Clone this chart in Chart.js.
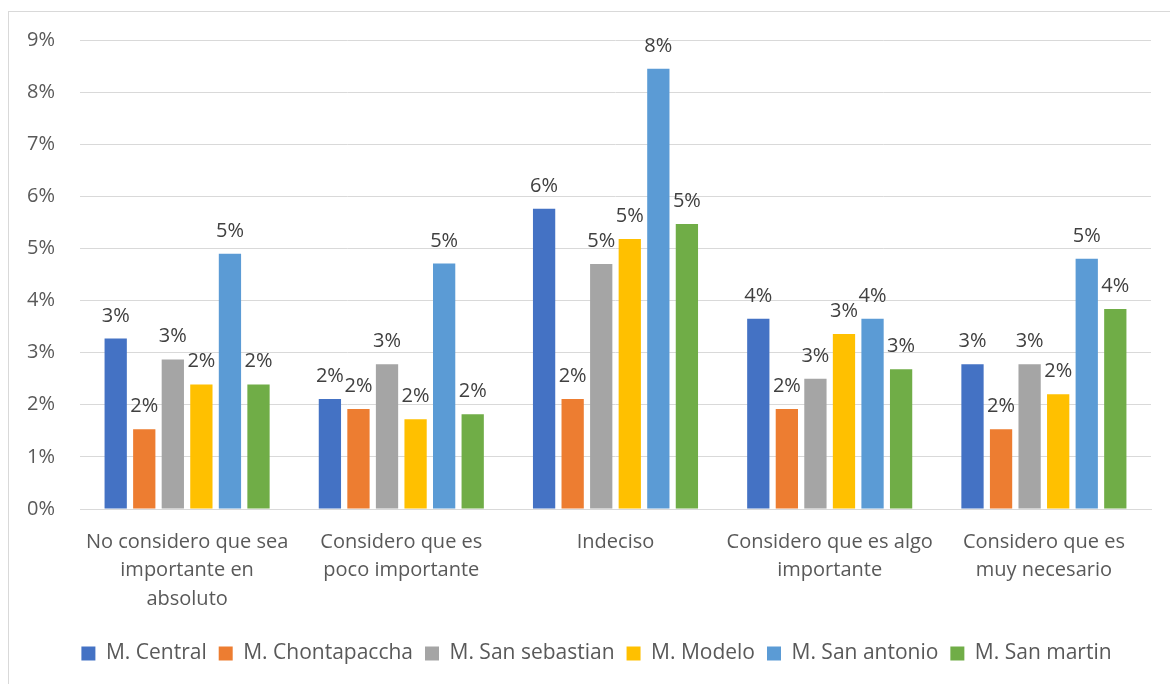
<!DOCTYPE html>
<html>
<head>
<meta charset="utf-8">
<script src="https://cdn.jsdelivr.net/npm/chart.js@4"></script>
<style>
  html, body { margin: 0; padding: 0; background: #fff; }
  body { width: 1170px; height: 684px; position: relative; overflow: hidden; }
  .frame { position: absolute; left: 8px; top: 11px; width: 1200px; height: 700px; border: 1px solid #d9d9d9; }
  .wrap { position: absolute; left: 0; top: 0; width: 1170px; height: 684px; }
</style>
</head>
<body>
<div class="frame"></div>
<div class="wrap"><canvas id="chart"></canvas></div>
<script>
// categories (wrapped the way the original shows them)
const categories = [
  ['No considero que sea', 'importante en', 'absoluto'],
  ['Considero que es', 'poco importante'],
  ['Indeciso'],
  ['Considero que es algo', 'importante'],
  ['Considero que es', 'muy necesario']
];

// values in percent
const central      = [3.27, 2.11, 5.76, 3.65, 2.78];
const chontapaccha = [1.53, 1.92, 2.11, 1.92, 1.53];
const sebastian    = [2.87, 2.78, 4.70, 2.50, 2.78];
const modelo       = [2.39, 1.72, 5.18, 3.36, 2.20];
const antonio      = [4.90, 4.71, 8.45, 3.65, 4.80];
const martin       = [2.39, 1.82, 5.47, 2.68, 3.84];

const seriesNames  = ['M. Central', 'M. Chontapaccha', 'M. San sebastian', 'M. Modelo', 'M. San antonio', 'M. San martin'];
const seriesValues = [central, chontapaccha, sebastian, modelo, antonio, martin];
const seriesColors = ['#4472C4', '#ED7D31', '#A5A5A5', '#FFC000', '#5B9BD5', '#70AD47'];

const yMax = 9;
const yStep = 1;

const FONT = "'Open Sans', sans-serif";

// draws the rounded value above each bar
const barLabels = {
  id: 'barLabels',
  afterDatasetsDraw(chart) {
    const ctx = chart.ctx;
    ctx.save();
    ctx.font = '20px ' + FONT;
    ctx.fillStyle = '#404040';
    ctx.textAlign = 'center';
    ctx.textBaseline = 'alphabetic';
    chart.data.datasets.forEach((ds, i) => {
      chart.getDatasetMeta(i).data.forEach((bar, j) => {
        ctx.fillText(Math.round(ds.data[j]) + '%', bar.x, bar.y - 17);
      });
    });
    ctx.restore();
  }
};

// the original legend is centred a bit to the right of the canvas centre
const legendShift = {
  id: 'legendShift',
  afterLayout(chart) {
    if (chart.legend) {
      chart.legend.left += 21;
      chart.legend.right += 21;
    }
  }
};

const ctx = document.getElementById('chart').getContext('2d');
new Chart(ctx, {
  type: 'bar',
  data: {
    labels: categories,
    datasets: seriesNames.map((name, i) => ({
      label: name,
      data: seriesValues[i],
      backgroundColor: seriesColors[i],
      borderWidth: 0,
      categoryPercentage: 0.8,
      barPercentage: 0.78
    }))
  },
  options: {
    responsive: true,
    maintainAspectRatio: false,
    animation: false,
    layout: { padding: { top: 40, right: 19, bottom: 10, left: 0 } },
    scales: {
      x: {
        grid: { display: false, drawTicks: false },
        border: { color: '#d9d9d9' },
        ticks: {
          color: '#595959',
          font: { family: FONT, size: 20, lineHeight: 1.42 },
          padding: 19,
          maxRotation: 0,
          autoSkip: false
        },
        afterFit(scale) { scale.height = 122; }
      },
      y: {
        min: 0,
        max: yMax,
        grid: { color: '#d9d9d9', drawTicks: false },
        border: { display: false },
        ticks: {
          stepSize: yStep,
          color: '#595959',
          font: { family: FONT, size: 20 },
          padding: 25,
          callback: v => v + '%'
        },
        afterFit(scale) { scale.width = 80; }
      }
    },
    plugins: {
      legend: {
        position: 'bottom',
        labels: {
          color: '#595959',
          font: { family: FONT, size: 21 },
          boxWidth: 14,
          boxHeight: 14,
          padding: 12
        }
      },
      tooltip: { enabled: false }
    }
  },
  plugins: [barLabels, legendShift]
});
</script>
</body>
</html>
